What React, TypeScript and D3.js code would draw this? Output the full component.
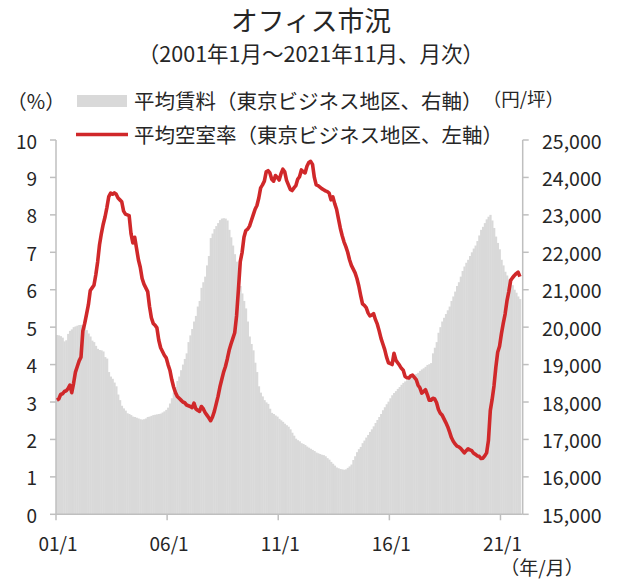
import React from "react";
import * as d3 from "d3";

// Monthly series, 2001/1 .. 2021/11 (251 months)
const vacancy2001_2005: number[] = [
  3.05, 3.08, 3.20, 3.22, 3.28, 3.30, 3.36, 3.45, 3.25, 3.50, 3.80, 3.95,
  4.10, 4.20, 4.90, 5.10, 5.35, 5.60, 5.98, 6.05, 6.12, 6.40, 6.75, 7.20,
  7.50, 7.75, 7.95, 8.20, 8.49, 8.58, 8.55, 8.59, 8.55, 8.45, 8.40, 8.35,
  8.10, 8.02, 8.00, 7.98, 7.50, 7.25, 7.40, 7.10, 6.80, 6.60, 6.30, 6.15,
  6.05, 5.95, 5.55, 5.25, 5.10, 5.05, 4.98, 4.65, 4.45, 4.35, 4.25, 4.18,
];
const vacancy2006_2010: number[] = [
  4.00, 3.85, 3.60, 3.40, 3.25, 3.15, 3.10, 3.05, 3.00, 2.98, 2.92, 2.90,
  2.88, 2.85, 2.97, 2.82, 2.78, 2.75, 2.88, 2.82, 2.72, 2.65, 2.58, 2.50,
  2.60, 2.75, 2.95, 3.15, 3.40, 3.60, 3.80, 3.95, 4.15, 4.38, 4.55, 4.70,
  4.85, 5.30, 6.00, 6.75, 7.00, 7.40, 7.58, 7.62, 7.70, 7.85, 8.00, 8.15,
  8.25, 8.45, 8.72, 8.80, 8.90, 9.15, 9.18, 9.12, 8.95, 8.90, 9.05, 9.00,
];
const vacancy2011_2015: number[] = [
  8.93, 9.10, 9.22, 9.15, 8.92, 8.80, 8.68, 8.65, 8.72, 8.78, 8.95, 9.02,
  9.20, 9.15, 9.12, 9.30, 9.40, 9.43, 9.35, 9.00, 8.80, 8.78, 8.74, 8.70,
  8.67, 8.64, 8.62, 8.58, 8.40, 8.48, 8.30, 8.15, 7.90, 7.65, 7.45, 7.28,
  7.15, 7.00, 6.80, 6.65, 6.55, 6.45, 6.30, 6.10, 5.85, 5.62, 5.58, 5.52,
  5.38, 5.30, 5.32, 5.36, 5.20, 5.08, 4.90, 4.70, 4.55, 4.40, 4.20, 4.05,
];
const vacancy2016_2021: number[] = [
  4.03, 4.00, 4.30, 4.12, 4.05, 3.98, 3.90, 3.85, 3.68, 3.65, 3.64, 3.70,
  3.72, 3.66, 3.60, 3.45, 3.38, 3.24, 3.28, 3.33, 3.20, 3.05, 3.05, 3.10,
  3.08, 2.98, 2.80, 2.70, 2.65, 2.55, 2.45, 2.34, 2.20, 2.05, 1.95, 1.88,
  1.82, 1.80, 1.76, 1.70, 1.64, 1.70, 1.75, 1.72, 1.70, 1.63, 1.60, 1.56,
  1.55, 1.49, 1.50, 1.56, 1.64, 1.97, 2.77, 3.07, 3.43, 3.93, 4.33, 4.49,
  4.82, 5.10, 5.35, 5.70, 5.95, 6.25, 6.32, 6.38, 6.43, 6.47, 6.35,
];

const rent2001_2005: number[] = [
  19790, 19780, 19760, 19720, 19620, 19650, 19820, 19900, 19940, 20000, 20020, 20040,
  20057, 20060, 20050, 20040, 19920, 19830, 19750, 19640, 19600, 19500, 19420, 19390,
  19380, 19350, 19200, 19160, 18800, 18680, 18620, 18520, 18420, 18200, 18050, 17900,
  17830, 17770, 17700, 17680, 17650, 17610, 17600, 17580, 17560, 17540, 17530, 17540,
  17560, 17600, 17610, 17630, 17650, 17660, 17670, 17680, 17690, 17720, 17750, 17790,
];
const rent2006_2010: number[] = [
  17850, 17960, 18100, 18250, 18400, 18560, 18680, 18850, 19000, 19150, 19300, 19600,
  19780, 19950, 20150, 20300, 20550, 20700, 21050, 21200, 21350, 21650, 21900, 22380,
  22500, 22620, 22700, 22780, 22860, 22900, 22910, 22900, 22850, 22600, 22400, 22180,
  21950, 21750, 21450, 21100, 20900, 20700, 20500, 20150, 19750, 19550, 19380, 19050,
  18800, 18420, 18250, 18150, 18050, 17990, 17950, 17820, 17710, 17680, 17640, 17610,
];
const rent2011_2015: number[] = [
  17550, 17510, 17470, 17420, 17380, 17340, 17270, 17180, 17100, 17020, 16980, 16950,
  16900, 16880, 16850, 16810, 16780, 16750, 16720, 16690, 16650, 16630, 16610, 16590,
  16580, 16550, 16500, 16460, 16400, 16350, 16300, 16250, 16230, 16210, 16200, 16190,
  16200, 16240, 16280, 16330, 16450, 16550, 16660, 16740, 16800, 16900, 16970, 17050,
  17120, 17200, 17270, 17350, 17440, 17520, 17600, 17680, 17780, 17860, 17940, 18010,
];
const rent2016_2021: number[] = [
  18100, 18180, 18240, 18290, 18350, 18400, 18460, 18510, 18550, 18580, 18620, 18670,
  18690, 18720, 18750, 18780, 18830, 18870, 18900, 18940, 18990, 19010, 19040, 19300,
  19450, 19600, 19850, 20000, 20150, 20250, 20350, 20450, 20550, 20700, 20820, 20950,
  21100, 21200, 21350, 21500, 21620, 21720, 21800, 21900, 22000, 22100, 22180, 22300,
  22450, 22600, 22680, 22780, 22880, 22950, 23000, 22850, 22650, 22420, 22250, 22080,
  21800, 21650, 21480, 21380, 21270, 21200, 21120, 21000, 20920, 20820, 20750,
];

const vacancy = [...vacancy2001_2005, ...vacancy2006_2010, ...vacancy2011_2015, ...vacancy2016_2021];
const rent = [...rent2001_2005, ...rent2006_2010, ...rent2011_2015, ...rent2016_2021];

const xTickLabels = ["01/1", "06/1", "11/1", "16/1", "21/1"];
const xTickIndex = [0, 60, 120, 180, 240];
const leftTicks = [0, 1, 2, 3, 4, 5, 6, 7, 8, 9, 10];
const rightTicks = [15000, 16000, 17000, 18000, 19000, 20000, 21000, 22000, 23000, 24000, 25000];

const FONT = "'Noto Sans CJK JP', 'Noto Sans', sans-serif";
const TEXT = "#262626";
const AXIS = "#bfbfbf";
const RED = "#d0282a";
const GREY = "#d9d9d9";

export default function App() {
  const W = 617, H = 580;
  const left = 56, right = 522.7, top = 140, bottom = 514.3;
  const x = d3.scaleLinear().domain([0, 252]).range([left, right]);
  const yL = d3.scaleLinear().domain([0, 10]).range([bottom, top]);
  const yR = d3.scaleLinear().domain([15000, 25000]).range([bottom, top]);
  const fmt = d3.format(",");

  const line = d3
    .line<number>()
    .x((_, i) => x(i + 0.5))
    .y((d) => yL(d))
    .curve(d3.curveLinear);

  const bw = x(1) - x(0);

  return (
    <svg width={W} height={H} style={{ position: "absolute", left: 0, top: 0 }} fontFamily={FONT}>
      <rect width={W} height={H} fill="#fff" />
      {/* title */}
      <text x={311} y={19} textAnchor="middle" dominantBaseline="central" fontSize={26.8} fill={TEXT}>
        オフィス市況
      </text>
      <text x={311} y={52} textAnchor="middle" dominantBaseline="central" fontSize={21.5} fill={TEXT}>
        （2001年1月～2021年11月、月次）
      </text>

      {/* bars */}
      <g>
        {rent.map((r, i) => (
          <rect
            key={i}
            x={x(i)}
            y={yR(r)}
            width={bw + 0.4}
            height={bottom - yR(r)}
            fill={GREY}
          />
        ))}
      </g>

      {/* axes */}
      <line x1={left} x2={left} y1={top} y2={bottom} stroke={AXIS} strokeWidth={1.5} />
      <line x1={right} x2={right} y1={top} y2={bottom} stroke={AXIS} strokeWidth={1.5} />
      <line x1={left} x2={right} y1={bottom} y2={bottom} stroke={AXIS} strokeWidth={1.5} />
      {leftTicks.map((t) => (
        <g key={"l" + t}>
          <line x1={left - 6} x2={left} y1={yL(t)} y2={yL(t)} stroke={AXIS} strokeWidth={1.5} />
          <text x={37} y={yL(t)} textAnchor="end" dominantBaseline="central" fontSize={19} fill={TEXT}>
            {t}
          </text>
        </g>
      ))}
      {rightTicks.map((t) => (
        <g key={"r" + t}>
          <line x1={right} x2={right + 6} y1={yR(t)} y2={yR(t)} stroke={AXIS} strokeWidth={1.5} />
          <text x={542} y={yR(t)} textAnchor="start" dominantBaseline="central" fontSize={19.5} fill={TEXT}>
            {fmt(t)}
          </text>
        </g>
      ))}
      {xTickIndex.map((idx, k) => (
        <g key={"x" + idx}>
          <line x1={x(idx)} x2={x(idx)} y1={bottom} y2={bottom + 6} stroke={AXIS} strokeWidth={1.5} />
          <text x={x(idx) + 2} y={542} textAnchor="middle" dominantBaseline="central" fontSize={19} fill={TEXT}>
            {xTickLabels[k]}
          </text>
        </g>
      ))}
      <text x={542} y={566} textAnchor="middle" dominantBaseline="central" fontSize={19} fill={TEXT}>
        （年/月）
      </text>

      {/* vacancy line */}
      <path d={line(vacancy) || ""} fill="none" stroke={RED} strokeWidth={3.6} strokeLinejoin="round" />

      {/* legend & unit labels */}
      <text x={36} y={100} textAnchor="middle" dominantBaseline="central" fontSize={20} fill={TEXT}>
        （%）
      </text>
      <text x={564} y={98} textAnchor="end" dominantBaseline="central" fontSize={18.5} fill={TEXT}>
        （円/坪）
      </text>
      <rect x={77} y={95} width={50} height={12} fill={GREY} />
      <text x={134} y={100} dominantBaseline="central" fontSize={20.5} fill={TEXT}>
        平均賃料（東京ビジネス地区、右軸）
      </text>
      <line x1={76} x2={128} y1={134.5} y2={134.5} stroke={RED} strokeWidth={3.6} />
      <text x={134} y={134} dominantBaseline="central" fontSize={20.5} fill={TEXT}>
        平均空室率（東京ビジネス地区、左軸）
      </text>
    </svg>
  );
}
